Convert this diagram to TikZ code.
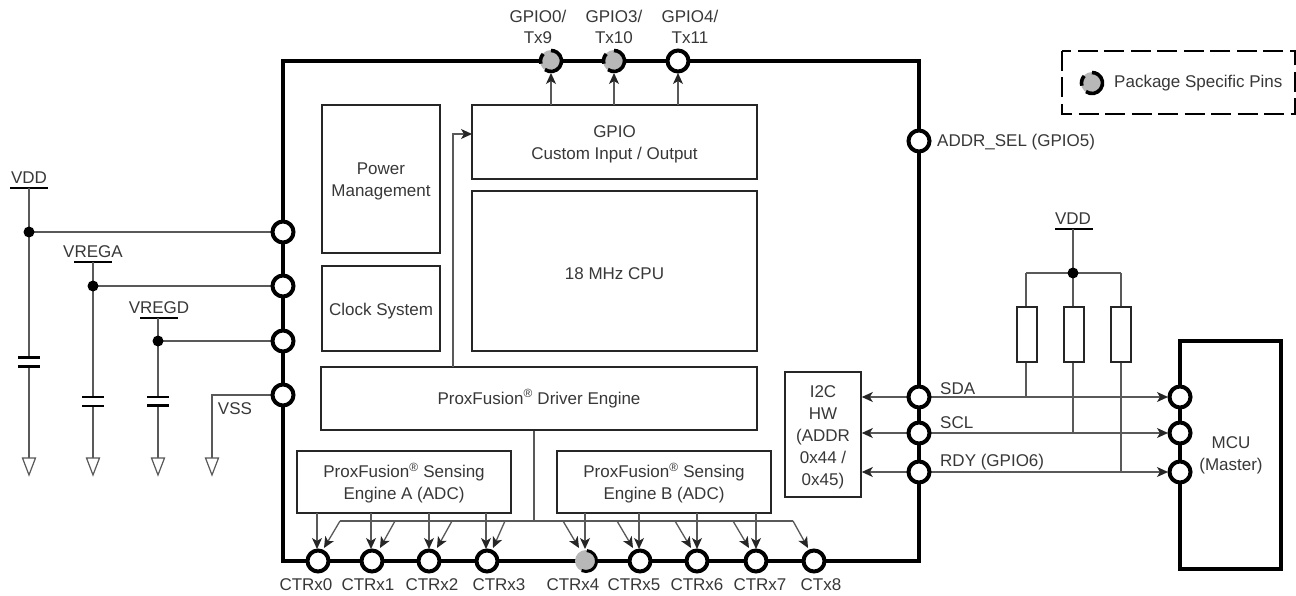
\documentclass[tikz,border=0pt]{standalone}
\usepackage{fontspec}
\setmainfont{Liberation Sans}
\usetikzlibrary{arrows.meta}
\definecolor{ink}{gray}{0.22}
\definecolor{wire}{gray}{0.35}
\newcommand{\tl}{\rule{0pt}{17pt}}
\tikzset{
  x=1pt,y=-1pt,
  txt/.style={font=\fontsize{17}{22}\selectfont,text=ink,inner sep=0pt,align=center,yshift=-1pt},
  ltxt/.style={txt,anchor=west},
  blk/.style={draw=black!85,line width=1.6pt,fill=white,inner sep=0pt,font=\fontsize{17}{22}\selectfont,text=ink,align=center},
  pinc/.style={circle,draw=black,line width=4pt,fill=white,minimum size=21pt,inner sep=0pt},
  graypin/.style={circle,fill=black!28,minimum size=22pt,inner sep=0pt},
  dot/.style={circle,fill=black,minimum size=11pt,inner sep=0pt},
  wireline/.style={draw=wire,line width=1.3pt},
  arr/.style={wireline,-{Stealth[length=11pt,width=10pt,inset=3pt,color=black!85]}},
  biarr/.style={wireline,{Stealth[length=11pt,width=10pt,inset=3pt,color=black!85]}-{Stealth[length=11pt,width=10pt,inset=3pt,color=black!85]}},
  rail/.style={draw=black,line width=2.8pt},
  capp/.style={draw=black,line width=2.8pt},
  gnd/.style={draw=wire,line width=1.2pt,fill=white,line join=miter},
  res/.style={draw=black!85,line width=2pt,fill=white,minimum width=20pt,minimum height=55pt,inner sep=0pt},
  thick box/.style={draw=black,line width=4.2pt,line join=miter},
}
% gray pin with a broken ring
\newcommand{\pkgpin}[3]{%
  \node[graypin] (#1) at (#2,#3) {};
  \begin{scope}[shift={(#2,#3)},yscale=-1]
    \draw[black,line width=3.6pt] (138:10.5) arc[start angle=138,end angle=195,radius=10.5];
    \draw[black,line width=3.6pt] (-125:10.5) arc[start angle=-125,end angle=90,radius=10.5];
  \end{scope}}
% ground symbol at a named coordinate
\newcommand{\gndsym}[3]{%
  \coordinate (#1) at (#2,#3);
  \draw[gnd] (#1) ++(-6.5,0) -- ++(13,0) -- ++(-6.5,17) -- cycle;}
% capacitor around a point
\newcommand{\capsym}[3]{%
  \draw[capp] (#1-11,#2) -- (#1+11,#2);
  \draw[capp] (#1-11,#3) -- (#1+11,#3);}
\begin{document}
\begin{tikzpicture}
\useasboundingbox (0,0) rectangle (1296,596);
\fill[white] (0,0) rectangle (1296,596);

% main chip and MCU
\draw[thick box] (283,61) rectangle (919,561);
\draw[thick box] (1180,341) rectangle (1281,569);

% legend
\draw[black,line width=2.8pt,dash pattern=on 20pt off 6.5pt] (1062,51) rectangle (1295,114);
\pkgpin{leg}{1092}{83}
\node[ltxt] (legt) at (1114,82) {Package Specific Pins};

% blocks
\node[blk,minimum width=118pt,minimum height=148pt] (pm) at (381,179) {\tl Power\\Management};
\node[blk,minimum width=118pt,minimum height=85pt] (clk) at (381,308.5) {\tl Clock System};
\node[blk,minimum width=285pt,minimum height=74pt] (gpio) at (614.5,142) {\tl GPIO\\Custom Input / Output};
\node[blk,minimum width=285pt,minimum height=160pt] (cpu) at (614.5,271) {\tl 18 MHz CPU};
\node[blk,minimum width=436pt,minimum height=63pt] (drv) at (539,398.5) {ProxFusion\textsuperscript{®} Driver Engine};
\node[blk,minimum width=214pt,minimum height=62pt] (sa) at (404,482) {\tl ProxFusion\textsuperscript{®} Sensing\\Engine A (ADC)};
\node[blk,minimum width=214pt,minimum height=62pt] (sb) at (664,482) {\tl ProxFusion\textsuperscript{®} Sensing\\Engine B (ADC)};
\node[blk,minimum width=76pt,minimum height=125pt] (i2c) at (823,434.5) {\tl I2C\\HW\\(ADDR\\0x44 /\\0x45)};

% named pin positions
\coordinate (pvdd) at (283,232);
\coordinate (pvrega) at (283,286);
\coordinate (pvregd) at (283,341);
\coordinate (pvss) at (283,395);
\coordinate (psda) at (919,397);
\coordinate (pscl) at (919,433);
\coordinate (prdy) at (919,472);

% driver to GPIO
\coordinate (drvup) at (453,367);
\coordinate (gpioin) at (472,134);
\draw[arr] (drvup) |- (gpioin);

% supply rails, left
\coordinate (vddbar) at (29,188);
\coordinate (vregabar) at (93,262);
\coordinate (vregdbar) at (158,318);
\draw[rail] (10,188) -- (48,188);
\draw[rail] (74,262) -- (112,262);
\draw[rail] (140,318) -- (178,318);
\gndsym{g1}{29}{458}
\gndsym{g2}{93}{458}
\gndsym{g3}{158}{458}
\gndsym{g4}{212}{458}
\coordinate (jvddc) at (29,232);
\coordinate (jvregac) at (93,286);
\coordinate (jvregdc) at (158,341);
\draw[wireline] (vddbar) -- (g1);
\draw[wireline] (vregabar) -- (g2);
\draw[wireline] (vregdbar) -- (g3);
\draw[wireline] (jvddc) -- (pvdd);
\draw[wireline] (jvregac) -- (pvrega);
\draw[wireline] (jvregdc) -- (pvregd);
\draw[wireline] (pvss) -| (g4);
\node[dot] (jvdd) at (jvddc) {};
\node[dot] (jvrega) at (jvregac) {};
\node[dot] (jvregd) at (jvregdc) {};
\fill[white] (15,358) rectangle (43,366);
\fill[white] (79,398) rectangle (107,406);
\fill[white] (144,398) rectangle (172,405);
\capsym{29}{357.5}{366.5}
\capsym{93}{397}{406}
\capsym{158}{397}{405.5}
\node[txt] (tvdd) at (29,177) {VDD};
\node[txt] (tvrega) at (93,251) {VREGA};
\node[txt] (tvregd) at (159,307) {VREGD};
\node[txt] (tvss) at (235,408) {VSS};

% pull-ups
\coordinate (vdd2) at (1073,229);
\draw[rail] (1055,229) -- (1093,229);
\coordinate (jpc) at (1073,273);
\coordinate (jl) at (1026,273);
\coordinate (jr) at (1121,273);
\draw[wireline] (vdd2) -- (1073,433);
\draw[wireline] (jl) -- (jr);
\draw[wireline] (jl) -- (1026,397);
\draw[wireline] (jr) -- (1121,472);
\node[dot] (jp) at (jpc) {};
\node[res] (r1) at (1026.5,334) {};
\node[res] (r2) at (1073.5,334) {};
\node[res] (r3) at (1120.5,334) {};
\node[txt] (tvdd2) at (1073,218) {VDD};

% I2C buses
\draw[biarr] (i2c.east |- psda) -- (1168,397);
\draw[biarr] (i2c.east |- pscl) -- (1168,433);
\draw[biarr] (i2c.east |- prdy) -- (1168,472);

% sensing engine arrows
\coordinate (busl) at (340,521);
\coordinate (busr) at (793,521);
\draw[wireline] (drv.south -| 534,0) -- (534,521);
\draw[wireline] (busl) -- (busr);
\foreach \a/\b in {340/324,395/380,452/437,505/493,563/579,617/633,675/691,733/749,793/808}
  \draw[arr] (\a,521) -- (\b,548);
\foreach \a in {317,371,429,486}
  \draw[arr] (\a,513) -- (\a,549);
\foreach \a in {585,639,697,756}
  \draw[arr] (\a,513) -- (\a,549);

% top GPIO arrows
\draw[arr] (551,105) -- (551,73);
\draw[arr] (614,105) -- (614,73);
\draw[arr] (678,105) -- (678,73);

% pins
\foreach \n/\x/\y in {a/283/232,b/283/286,c/283/341,d/283/395,
  t/678/61,ad/919/141,sda/919/397,scl/919/433,rdy/919/472,
  m1/1180/397,m2/1180/433,m3/1180/472,
  c0/318/561,c1/372/561,c2/429/561,c3/487/561,c5/640/561,c6/697/561,c7/756/561,c8/814/561}
  \node[pinc] (pin\n) at (\x,\y) {};
\pkgpin{pt0}{551}{61}
\pkgpin{pt3}{614}{61}
\node[graypin] (pin4) at (586,561) {};
\begin{scope}[shift={(586,561)},yscale=-1]
  \draw[black,line width=3pt] (85:10.5) arc[start angle=85,end angle=-115,radius=10.5];
\end{scope}

% pin labels
\node[txt] (l0) at (538,15) {GPIO0/}; \node[txt] (l1) at (538,37) {Tx9};
\node[txt] (l2) at (614,15) {GPIO3/}; \node[txt] (l3) at (614,37) {Tx10};
\node[txt] (l4) at (690,15) {GPIO4/}; \node[txt] (l5) at (690,37) {Tx11};
\node[ltxt] (l6) at (937,141) {ADDR\_SEL (GPIO5)};
\node[ltxt] (l7) at (940,388) {SDA};
\node[ltxt] (l8) at (940,422) {SCL};
\node[ltxt] (l9) at (940,461) {RDY (GPIO6)};
\node[txt] (mcu) at (1231,454) {MCU\\(Master)};
\foreach \n/\x/\t in {0/306/CTRx0,1/368/CTRx1,2/432/CTRx2,3/499/CTRx3,4/573/CTRx4,5/634/CTRx5,6/697/CTRx6,7/760/CTRx7,8/821/CTx8}
  \node[txt] (lc\n) at (\x,584) {\t};
\end{tikzpicture}
\end{document}
